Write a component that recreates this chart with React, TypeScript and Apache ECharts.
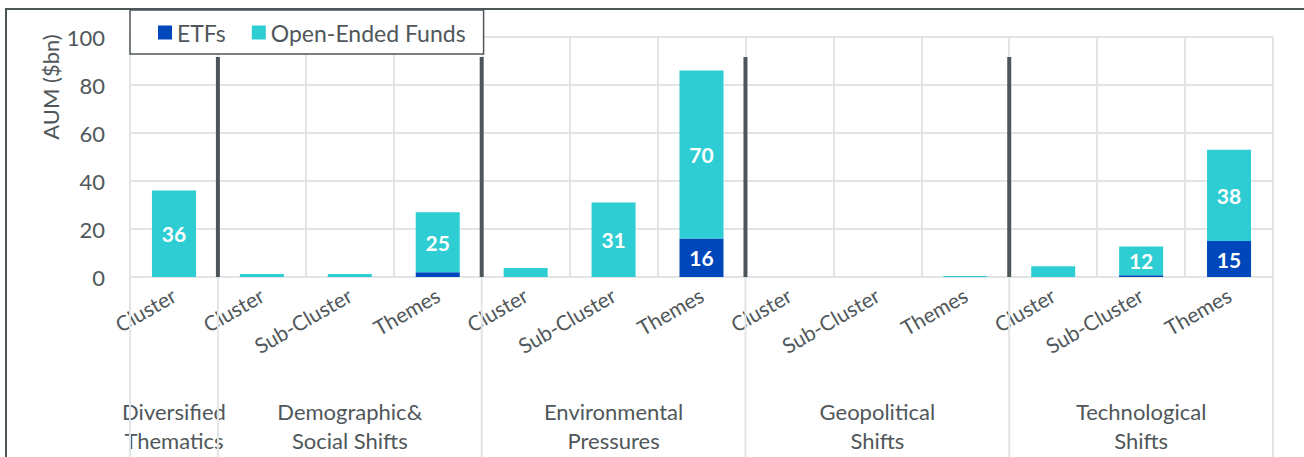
import React, { useEffect, useRef } from "react";
import * as echarts from "echarts";

const groups = [
  "Diversified\nThematics",
  "Demographic&\nSocial Shifts",
  "Environmental\nPressures",
  "Geopolitical\nShifts",
  "Technological\nShifts",
];
const groupLevels = [
  ["Cluster"],
  ["Cluster", "Sub-Cluster", "Themes"],
  ["Cluster", "Sub-Cluster", "Themes"],
  ["Cluster", "Sub-Cluster", "Themes"],
  ["Cluster", "Sub-Cluster", "Themes"],
];
const etfs = [0, 0, 0, 2, 0, 0, 16, 0, 0, 0, 0, 0.7, 15];
const openEnded = [36, 1.2, 1.2, 25, 3.8, 31, 70, 0, 0, 0.4, 4.5, 12, 38];
const yTicks = { min: 0, max: 100, interval: 20 };

const FONT = "Lato, 'Noto Sans', sans-serif";
const TXT = "#50575a";
const DARK = "#4f5659";
const GRID = "#e2e5e5";

export default function App() {
  const ref = useRef<HTMLDivElement>(null);
  useEffect(() => {
    document.body.style.margin = "0";
    const chart = echarts.init(ref.current!, null, { renderer: "svg" });
    const categories: string[] = [];
    const groupLabelAt: Record<number, string> = {};
    const groupStarts: number[] = [];
    groupLevels.forEach((lv, g) => {
      groupStarts.push(categories.length);
      groupLabelAt[categories.length + Math.floor(lv.length / 2)] = groups[g];
      lv.forEach((l) => categories.push(l));
    });
    const labelFmt = (p: any) => (p.value >= 10 ? String(Math.round(p.value)) : "");
    const barLabel = {
      show: true,
      position: "inside",
      color: "#fff",
      fontWeight: "bold",
      fontSize: 21,
      fontFamily: FONT,
      formatter: labelFmt,
    };
    chart.setOption({
      animation: false,
      textStyle: { fontFamily: FONT },
      grid: { left: 130, right: 31, top: 37, bottom: 180, containLabel: false },
      legend: {
        left: 130,
        top: 10,
        padding: [11, 18, 10, 28],
        itemWidth: 14,
        itemHeight: 14,
        itemGap: 26,
        icon: "rect",
        selectedMode: false,
        borderColor: DARK,
        borderWidth: 1.5,
        backgroundColor: "#fff",
        textStyle: { fontSize: 23, color: TXT, fontFamily: FONT },
        data: ["ETFs", "Open-Ended Funds"],
      },
      xAxis: [
        {
          type: "category",
          data: categories,
          axisLine: { show: true, lineStyle: { color: GRID, width: 2 } },
          axisTick: { show: false },
          splitLine: { show: true, interval: 0, lineStyle: { color: GRID, width: 2 } },
          axisLabel: {
            interval: 0,
            rotate: 30,
            margin: 16,
            fontSize: 21,
            color: TXT,
            fontFamily: FONT,
          },
        },
        {
          type: "category",
          data: categories,
          position: "bottom",
          axisLine: { show: false },
          axisTick: { show: false },
          splitLine: { show: false },
          axisLabel: {
            interval: 0,
            margin: 120,
            fontSize: 22,
            lineHeight: 29,
            color: TXT,
            fontFamily: FONT,
            formatter: (_v: string, i: number) => groupLabelAt[i] || "",
          },
        },
      ],
      yAxis: {
        type: "value",
        ...yTicks,
        axisLine: { show: false },
        axisTick: { show: false },
        splitLine: { lineStyle: { color: GRID, width: 2 } },
        axisLabel: { fontSize: 22, color: TXT, margin: 25, fontFamily: FONT },
      },
      series: [
        {
          name: "ETFs",
          type: "bar",
          stack: "aum",
          barWidth: 44,
          data: etfs,
          itemStyle: { color: "#0047bb" },
          label: barLabel,
        },
        {
          name: "Open-Ended Funds",
          type: "bar",
          stack: "aum",
          barWidth: 44,
          data: openEnded,
          itemStyle: { color: "#2ecdd3" },
          label: barLabel,
        },
      ],
    });

    const c0 = chart.convertToPixel({ xAxisIndex: 0 }, 0) as number;
    const c1 = chart.convertToPixel({ xAxisIndex: 0 }, 1) as number;
    const step = c1 - c0;
    const bx = (i: number) => c0 + (i - 0.5) * step;
    const y0 = chart.convertToPixel({ yAxisIndex: 0 }, 0) as number;
    const yTop = chart.convertToPixel({ yAxisIndex: 0 }, 91.7) as number;
    const graphics: any[] = [
      {
        type: "rect",
        shape: { x: 6, y: 9, width: 1320, height: 470 },
        style: { fill: "none", stroke: DARK, lineWidth: 2 },
        z: 1,
      },
      {
        type: "text",
        x: 50,
        y: 87,
        rotation: Math.PI / 2,
        style: {
          text: "AUM ($bn)",
          fontSize: 22,
          fill: TXT,
          fontFamily: FONT,
          align: "center",
          verticalAlign: "middle",
        },
      },
    ];
    [...groupStarts, categories.length].forEach((i) => {
      graphics.push({
        type: "line",
        shape: { x1: bx(i), y1: y0, x2: bx(i), y2: 470 },
        style: { stroke: GRID, lineWidth: 2 },
        z: 1,
      });
    });
    groupStarts.slice(1).forEach((i) => {
      graphics.push({
        type: "line",
        shape: { x1: bx(i), y1: yTop, x2: bx(i), y2: y0 },
        style: { stroke: DARK, lineWidth: 4 },
        z: 3,
      });
    });
    chart.setOption({ graphic: graphics });
    return () => chart.dispose();
  }, []);
  return <div ref={ref} style={{ width: 1304, height: 457 }} />;
}
